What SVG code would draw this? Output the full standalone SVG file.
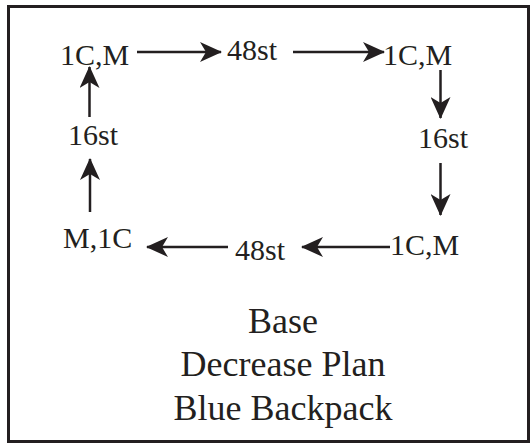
<svg xmlns="http://www.w3.org/2000/svg" width="531" height="444" viewBox="0 0 531 444">
<style>
.lbl{font-family:"Liberation Serif","Times New Roman",serif;font-size:30px;fill:#231f20}
.ttl{font-family:"Liberation Serif","Times New Roman",serif;font-size:36px;fill:#231f20;text-anchor:middle}
.conn line{stroke:#231f20;stroke-width:2.5}
</style>
<defs>
<marker id="ah" viewBox="0 0 22 20" refX="21" refY="10" markerWidth="22" markerHeight="20" markerUnits="userSpaceOnUse" orient="auto">
<path d="M0,0 L22,10 L0,20 L6,10 Z" fill="#231f20"/>
</marker>
</defs>
<rect x="8.5" y="6.5" width="520" height="435" fill="#fff" stroke="#231f20" stroke-width="3"/>
<g id="n1"><text class="lbl" x="60" y="65">1C,M</text></g>
<g id="n2"><text class="lbl" x="227" y="60">48st</text></g>
<g id="n3"><text class="lbl" x="383" y="65">1C,M</text></g>
<g id="n4"><text class="lbl" x="418" y="148">16st</text></g>
<g id="n5"><text class="lbl" x="390" y="255">1C,M</text></g>
<g id="n6"><text class="lbl" x="235" y="260">48st</text></g>
<g id="n7"><text class="lbl" x="63" y="248">M,1C</text></g>
<g id="n8"><text class="lbl" x="68" y="145">16st</text></g>
<g class="conn" id="connectors">
<line x1="137" y1="52" x2="221" y2="52" marker-end="url(#ah)"/>
<line x1="293" y1="52" x2="384" y2="52" marker-end="url(#ah)"/>
<line x1="440.5" y1="70" x2="440.5" y2="118" marker-end="url(#ah)"/>
<line x1="440.5" y1="163" x2="440.5" y2="215" marker-end="url(#ah)"/>
<line x1="390" y1="247" x2="302" y2="247" marker-end="url(#ah)"/>
<line x1="228" y1="247" x2="147" y2="247" marker-end="url(#ah)"/>
<line x1="90" y1="212" x2="90" y2="159" marker-end="url(#ah)"/>
<line x1="89.5" y1="117" x2="89.5" y2="67" marker-end="url(#ah)"/>
</g>
<g id="title">
<text class="ttl" x="283" y="333">Base</text>
<text class="ttl" x="283" y="376">Decrease Plan</text>
<text class="ttl" x="283" y="420">Blue Backpack</text>
</g>
</svg>
